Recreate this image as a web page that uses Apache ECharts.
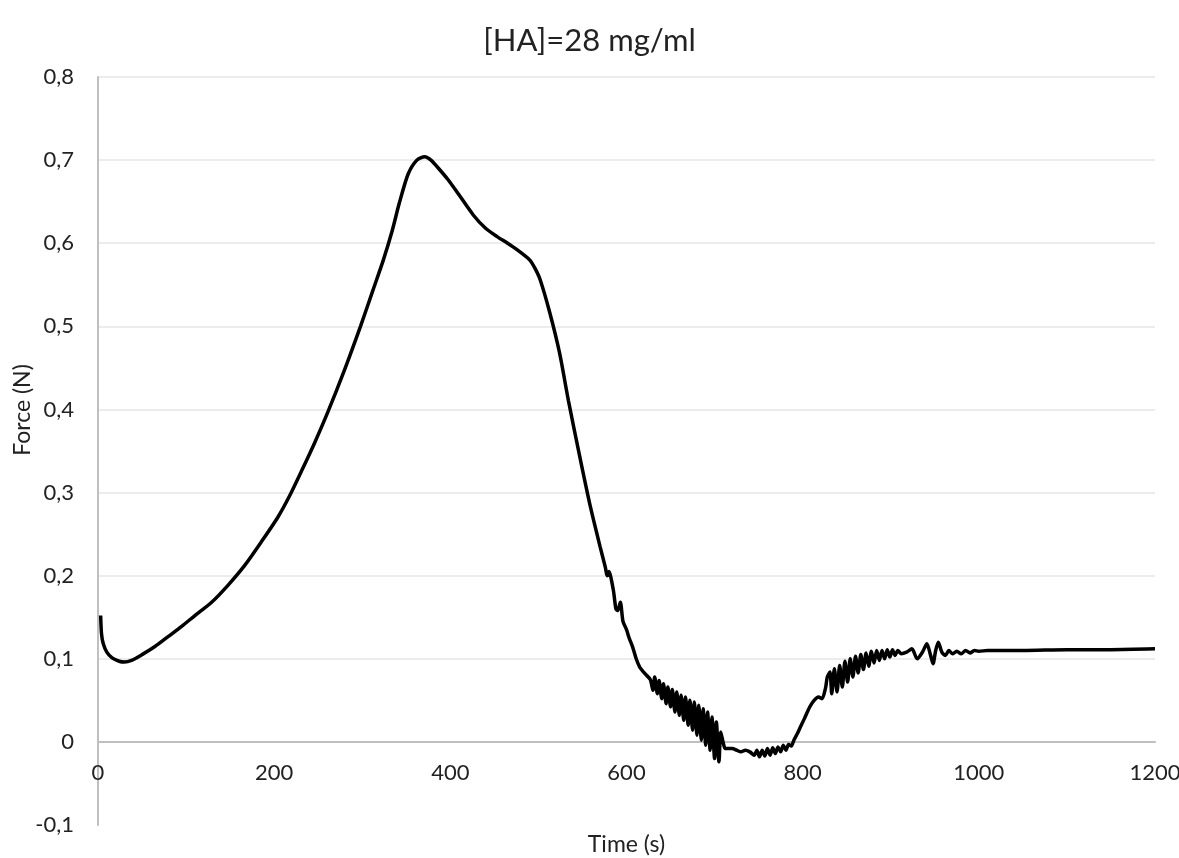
<!DOCTYPE html>
<html>
<head>
<meta charset="utf-8">
<title>[HA]=28 mg/ml</title>
<script src="https://cdn.jsdelivr.net/npm/echarts@6/dist/echarts.min.js"></script>
<style>
  html, body { margin: 0; padding: 0; background: #fff; }
  #main { width: 1179px; height: 858px; }
</style>
</head>
<body>
<div id="main"></div>
<script>
// time (s), force (N), split by part of the curve
var rise = [
  [3, 0.152], [4, 0.13], [6, 0.118], [10, 0.108], [16, 0.101], [24, 0.097], [30, 0.096],
  [38, 0.098], [50, 0.105], [65, 0.115], [80, 0.127], [95, 0.139], [110, 0.152],
  [129, 0.168], [148, 0.189], [167, 0.213], [185, 0.24], [204, 0.27], [218, 0.297],
  [232, 0.328], [246, 0.36], [261, 0.397], [280, 0.448], [298, 0.5], [312, 0.543],
  [324, 0.58], [334, 0.615], [342, 0.648], [352, 0.683], [362, 0.7], [371, 0.704], [378, 0.7]
];
var fall = [
  [385, 0.692], [397, 0.677], [408, 0.661], [426, 0.634], [440, 0.618], [453, 0.608],
  [465, 0.6], [476, 0.592], [490, 0.58], [496, 0.57], [502, 0.556], [513, 0.516],
  [524, 0.468], [534, 0.411], [547, 0.343], [559, 0.283], [570, 0.235], [576, 0.21],
  [578, 0.2], [580, 0.205], [585, 0.183], [588, 0.16], [590, 0.158], [593, 0.168],
  [596, 0.145], [600, 0.135], [603, 0.125], [607, 0.114], [611, 0.1], [615, 0.09],
  [621, 0.082], [627, 0.075]
];
var trough = [
  [630, 0.062], [632, 0.078], [635, 0.058], [637, 0.074], [640, 0.052], [642, 0.07],
  [645, 0.046], [647, 0.066], [650, 0.042], [652, 0.063], [655, 0.036], [657, 0.06],
  [660, 0.032], [662, 0.056], [665, 0.026], [667, 0.054], [670, 0.02], [672, 0.05],
  [675, 0.014], [677, 0.048], [680, 0.008], [682, 0.044], [685, 0.002], [687, 0.04],
  [690, -0.004], [692, 0.036], [695, -0.01], [697, 0.03], [700, -0.02], [702, 0.024],
  [705, -0.024], [707, 0.012], [710, -0.002], [712, -0.008], [715, -0.008], [720, -0.008],
  [725, -0.01], [730, -0.012], [735, -0.01], [740, -0.012], [745, -0.016], [748, -0.01],
  [751, -0.018], [754, -0.01], [757, -0.017], [760, -0.008], [763, -0.016], [766, -0.007],
  [769, -0.014], [772, -0.006], [775, -0.012], [778, -0.004], [781, -0.01], [784, -0.003],
  [787, -0.005], [790, 0.002], [794, 0.01], [797, 0.017], [802, 0.028], [808, 0.042],
  [813, 0.05], [818, 0.054], [822, 0.052]
];
var recovery = [
  [826, 0.065], [828, 0.078], [831, 0.084], [833, 0.058], [836, 0.088], [839, 0.06],
  [842, 0.092], [845, 0.066], [848, 0.097], [851, 0.072], [854, 0.1], [857, 0.078],
  [860, 0.103], [863, 0.083], [866, 0.105], [869, 0.087], [872, 0.107], [875, 0.091],
  [878, 0.109], [881, 0.095], [884, 0.11], [887, 0.098], [890, 0.11], [893, 0.1],
  [896, 0.111], [899, 0.102], [902, 0.111], [905, 0.104], [908, 0.11], [912, 0.106],
  [918, 0.108], [924, 0.112], [930, 0.1], [936, 0.108], [941, 0.118], [945, 0.105],
  [948, 0.094], [951, 0.11], [954, 0.12], [958, 0.108], [962, 0.104], [966, 0.11],
  [970, 0.106], [975, 0.109], [980, 0.106], [985, 0.11], [990, 0.107], [995, 0.11],
  [1000, 0.109], [1010, 0.11], [1020, 0.11], [1050, 0.11], [1100, 0.111],
  [1150, 0.111], [1200, 0.112]
];

var chart = echarts.init(document.getElementById("main"));
var fontName = "Lato";

var option = {
  animation: false,
  backgroundColor: "#fff",
  title: {
    text: "[HA]=28 mg/ml",
    left: "center",
    top: 20,
    textStyle: { fontFamily: fontName, fontSize: 31, fontWeight: "normal", color: "#222" },
  },
  grid: {
    left: 98,
    right: 24,
    top: 77,
    bottom: 33,
    containLabel: false,
    outerBoundsMode: "none",
  },
  xAxis: {
    type: "value",
    min: 0,
    max: 1200,
    interval: 200,
    name: "Time (s)",
    nameLocation: "middle",
    nameGap: 8,
    nameMoveOverlap: false,
    nameTextStyle: { fontFamily: fontName, fontSize: 23, color: "#222" },
    axisLine: { onZero: true, lineStyle: { color: "#bfbfbf", width: 2 } },
    axisTick: { show: false },
    axisLabel: {
      // labels sit just under the zero line, like the original
      margin: -63,
      fontFamily: fontName,
      fontSize: 22,
      color: "#222",
      formatter: function (v) {
        return String(v);
      },
    },
    splitLine: { show: false },
  },
  yAxis: {
    type: "value",
    min: -0.1,
    max: 0.8,
    interval: 0.1,
    name: "Force (N)",
    nameLocation: "middle",
    nameGap: 64,
    nameMoveOverlap: false,
    nameTextStyle: { fontFamily: fontName, fontSize: 23, color: "#222", padding: [0, 0, 0, 82] },
    axisLine: { show: true, lineStyle: { color: "#bfbfbf", width: 2 } },
    axisTick: { show: false },
    axisLabel: {
      margin: 24,
      fontFamily: fontName,
      fontSize: 22,
      color: "#222",
      formatter: function (v) {
        var s = (Math.round(v * 10) / 10).toString();
        return s.replace(".", ",");
      },
    },
    splitLine: {
      show: true,
      lineStyle: {
        width: 2,
        // no grid line at -0,1
        color: ["rgba(0,0,0,0)", "#ececec", "#ececec", "#ececec", "#ececec",
                "#ececec", "#ececec", "#ececec", "#ececec", "#ececec"],
      },
    },
  },
  series: [
    {
      type: "line",
      data: rise.concat(fall, trough, recovery),
      showSymbol: false,
      smooth: 0.25,
      lineStyle: { color: "#000", width: 3.5 },
    },
  ],
};

chart.setOption(option);
</script>
</body>
</html>
